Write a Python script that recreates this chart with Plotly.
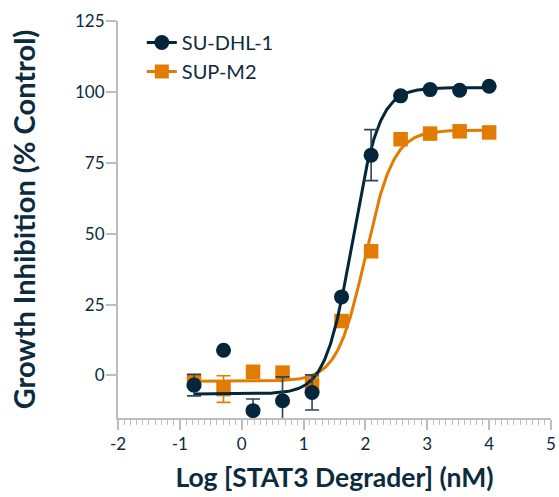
import numpy as np
import plotly.graph_objects as go

# Log10 of STAT3 degrader concentration (nM), 3-fold dilution series
log_conc = [-0.771, -0.294, 0.183, 0.66, 1.137, 1.614, 2.092, 2.569, 3.046, 3.523, 4.0]

# Growth inhibition (% control), mean and error
su_dhl1 = [-3.4, 8.9, -12.4, -8.9, -6.0, 27.7, 77.7, 98.6, 100.8, 100.6, 102.0]
su_dhl1_err = [3.8, 0, 4.1, 8.4, 6.2, 0, 9.0, 0, 0, 0, 0]
sup_m2 = [-2.0, -4.8, 1.3, 1.0, -3.5, 19.2, 43.8, 83.3, 85.3, 86.1, 85.7]
sup_m2_err = [2.0, 4.7, 0, 0, 3.0, 0, 0, 0, 0, 0, 0]

# Four-parameter logistic fits: bottom, top, log EC50, Hill slope
fit_su_dhl1 = dict(bottom=-6.5, top=101.5, logec50=1.79, hill=2.0)
fit_sup_m2 = dict(bottom=-2.0, top=86.5, logec50=2.0, hill=1.9)

x_ticks = [-2, -1, 0, 1, 2, 3, 4, 5]
y_ticks = [0, 25, 50, 75, 100, 125]

NAVY = "#03263b"
ORANGE = "#e27c00"
TEXT = "#0c2b3e"
AXIS = "#bdbdbd"
FONT = "Lato, 'Open Sans', sans-serif"


def logistic(x, bottom, top, logec50, hill):
    return bottom + (top - bottom) / (1 + 10 ** ((logec50 - x) * hill))


xf = np.linspace(min(log_conc), max(log_conc), 400)

fig = go.Figure()

series = [
    ("SUP-M2", sup_m2, sup_m2_err, fit_sup_m2, ORANGE, "square", ORANGE),
    ("SU-DHL-1", su_dhl1, su_dhl1_err, fit_su_dhl1, NAVY, "circle", "#2a4556"),
]

for name, ys, errs, fit, color, symbol, errcolor in series:
    fig.add_trace(go.Scatter(
        x=xf, y=logistic(xf, **fit), mode="lines",
        line=dict(color=color, width=3), showlegend=False, hoverinfo="skip",
    ))
    fig.add_trace(go.Scatter(
        x=log_conc, y=ys, mode="markers", name=name, showlegend=False,
        marker=dict(color=color, size=15 if symbol == "circle" else 14.5, symbol=symbol,
                    line=dict(width=0)),
        error_y=dict(type="data", array=errs, visible=True, color=errcolor,
                     thickness=1.6, width=7),
    ))

# Legend entries (line + marker)
for name, color, symbol in [("SU-DHL-1", NAVY, "circle"), ("SUP-M2", ORANGE, "square")]:
    fig.add_trace(go.Scatter(
        x=[None], y=[None], mode="lines+markers", name=name,
        line=dict(color=color, width=3),
        marker=dict(color=color, size=15 if symbol == "circle" else 14, symbol=symbol),
    ))

fig.update_layout(
    width=559, height=497,
    margin=dict(l=118, r=8, t=21, b=79),
    paper_bgcolor="white", plot_bgcolor="white",
    font=dict(family=FONT, color=TEXT, size=17),
    showlegend=True,
    legend=dict(
        x=0.055, y=0.995, xanchor="left", yanchor="top",
        font=dict(family=FONT, size=20, color=TEXT),
        bgcolor="rgba(0,0,0,0)", itemwidth=30, tracegroupgap=0,
        traceorder="normal",
    ),
    xaxis=dict(
        range=[-2, 5], tickvals=x_ticks, ticktext=[str(v) for v in x_ticks],
        automargin=False,
        showline=True, linecolor=AXIS, linewidth=2,
        ticks="outside", ticklen=10, tickwidth=1.5, tickcolor=AXIS,
        minor=dict(dtick=0.1, tick0=0, ticks="outside", ticklen=5,
                   tickwidth=1, tickcolor=AXIS, showgrid=False),
        showgrid=False, zeroline=False,
        tickfont=dict(family=FONT, size=17, color=TEXT),
        title=dict(text="<b>Log [STAT3 Degrader] (nM)</b>", standoff=15,
                   font=dict(family=FONT, size=26.5, color=TEXT)),
    ),
    yaxis=dict(
        range=[-15, 125], tickvals=y_ticks,
        automargin=False,
        showline=True, linecolor=AXIS, linewidth=2,
        ticks="outside", ticklen=10, tickwidth=1.5, tickcolor=AXIS,
        ticklabelstandoff=-2,
        showgrid=False, zeroline=False,
        tickfont=dict(family=FONT, size=17, color=TEXT),
        title=dict(text="<b>Growth Inhibition (% Control)</b>", standoff=31,
                   font=dict(family=FONT, size=29, color=TEXT)),
    ),
)

fig.write_html("out.html")
